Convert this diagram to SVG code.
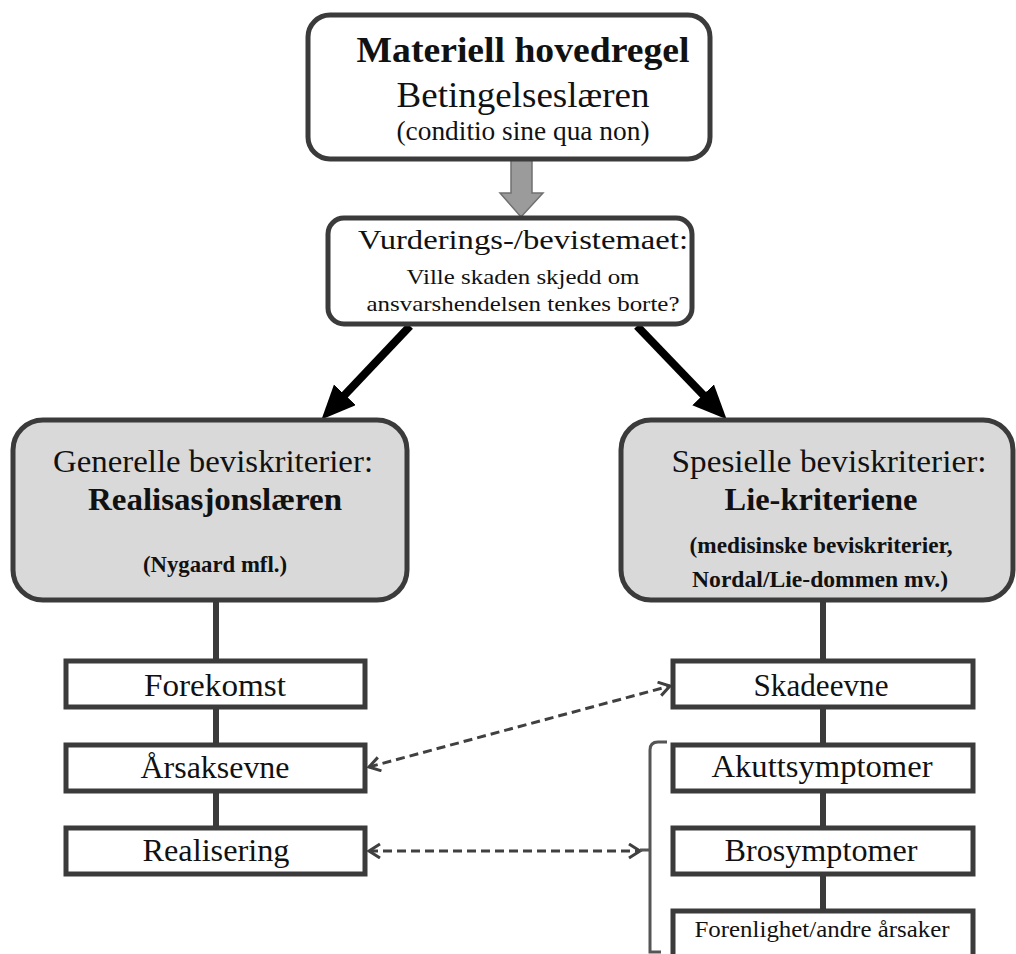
<svg xmlns="http://www.w3.org/2000/svg" width="1016" height="954" viewBox="0 0 1016 954">
<style>
text{font-family:"Liberation Serif","Times New Roman",Tinos,serif;fill:#111;text-anchor:middle}
.b{font-weight:bold}
.box{fill:#fff;stroke:#3b3b3b;stroke-width:5}
.gbox{fill:#d9d9d9;stroke:#3b3b3b;stroke-width:5}
.ln{stroke:#3b3b3b;stroke-width:6;fill:none}
.dash{stroke:#404040;stroke-width:3;fill:none;stroke-dasharray:9 5}
.thick{stroke:#000;stroke-width:8;fill:none}
.br{stroke:#555;stroke-width:3;fill:none}
.c{font-size:31px}
</style>
<defs>
<marker id="blk" markerUnits="userSpaceOnUse" markerWidth="36" markerHeight="32" refX="10" refY="15" orient="auto">
<path d="M0,0 L34,15 L0,30 z" fill="#000"/>
</marker>
<marker id="chev" markerUnits="userSpaceOnUse" markerWidth="18" markerHeight="18" refX="13" refY="8" orient="auto-start-reverse">
<path d="M2,1 L13,8 L2,15" fill="none" stroke="#404040" stroke-width="3"/>
</marker>
</defs>
<g id="connectors">
<polygon points="511,160 532,160 532,193 543,193 521,217 500,193 511,193" fill="#9b9b9b" stroke="#707070" stroke-width="1.5"/>
<line class="thick" x1="410" y1="326" x2="338" y2="402" marker-end="url(#blk)"/>
<line class="thick" x1="637" y1="326" x2="710" y2="402" marker-end="url(#blk)"/>
<line class="ln" x1="216" y1="600" x2="216" y2="661"/>
<line class="ln" x1="216" y1="707" x2="216" y2="745"/>
<line class="ln" x1="216" y1="791" x2="216" y2="828"/>
<line class="ln" x1="823" y1="600" x2="823" y2="661"/>
<line class="ln" x1="823" y1="707" x2="823" y2="745"/>
<line class="ln" x1="823" y1="791" x2="823" y2="828"/>
<line class="ln" x1="823" y1="874" x2="823" y2="911"/>
<line class="dash" x1="369" y1="767" x2="670" y2="686" marker-start="url(#chev)" marker-end="url(#chev)"/>
<line class="dash" x1="369" y1="851" x2="640" y2="851" marker-start="url(#chev)" marker-end="url(#chev)"/>
<path class="br" d="M667,742 L658,742 Q650,742 650,750 L650,952 L661,952 M650,850 L640,850"/>
</g>
<g id="n-hovedregel">
<rect class="box" x="308" y="15" width="402" height="144" rx="22" stroke-width="6"/>
<text class="b" x="523" y="62" font-size="35" textLength="333" lengthAdjust="spacingAndGlyphs">Materiell hovedregel</text>
<text x="523" y="107" font-size="36" textLength="253" lengthAdjust="spacingAndGlyphs">Betingelseslæren</text>
<text x="523" y="140" font-size="27" textLength="253" lengthAdjust="spacingAndGlyphs">(conditio sine qua non)</text>
</g>
<g id="n-bevistema">
<rect class="box" x="328" y="218" width="364" height="106" rx="16" stroke-width="4"/>
<text x="523" y="249" font-size="28" textLength="330" lengthAdjust="spacingAndGlyphs">Vurderings-/bevistemaet:</text>
<text x="523" y="284" font-size="21" textLength="233" lengthAdjust="spacingAndGlyphs">Ville  skaden skjedd om</text>
<text x="523" y="311" font-size="21" textLength="313" lengthAdjust="spacingAndGlyphs">ansvarshendelsen  tenkes borte?</text>
</g>
<g id="n-generelle">
<rect class="gbox" x="13" y="420" width="394" height="180" rx="30"/>
<text x="213" y="472" font-size="32" textLength="320" lengthAdjust="spacingAndGlyphs">Generelle beviskriterier:</text>
<text class="b" x="215" y="510" font-size="32" textLength="254" lengthAdjust="spacingAndGlyphs">Realisasjonslæren</text>
<text class="b" x="215" y="572" font-size="23" textLength="144" lengthAdjust="spacingAndGlyphs">(Nygaard mfl.)</text>
</g>
<g id="n-spesielle">
<rect class="gbox" x="621" y="420" width="392" height="180" rx="30"/>
<text x="829" y="472" font-size="32" textLength="315" lengthAdjust="spacingAndGlyphs">Spesielle beviskriterier:</text>
<text class="b" x="821" y="510" font-size="32" textLength="193" lengthAdjust="spacingAndGlyphs">Lie-kriteriene</text>
<text class="b" x="821" y="553" font-size="24" textLength="263" lengthAdjust="spacingAndGlyphs">(medisinske beviskriterier,</text>
<text class="b" x="820" y="587" font-size="24" textLength="256" lengthAdjust="spacingAndGlyphs">Nordal/Lie-dommen mv.)</text>
</g>
<g id="n-forekomst">
<rect class="box" x="66" y="661" width="299" height="46"/>
<text class="c" x="215" y="696" textLength="142" lengthAdjust="spacingAndGlyphs">Forekomst</text>
</g>
<g id="n-arsaksevne">
<rect class="box" x="66" y="745" width="299" height="46"/>
<text class="c" x="215" y="778" textLength="149" lengthAdjust="spacingAndGlyphs">Årsaksevne</text>
</g>
<g id="n-realisering">
<rect class="box" x="66" y="828" width="299" height="46"/>
<text class="c" x="216" y="861" textLength="147" lengthAdjust="spacingAndGlyphs">Realisering</text>
</g>
<g id="n-skadeevne">
<rect class="box" x="673" y="661" width="300" height="46"/>
<text class="c" x="821" y="696" textLength="135" lengthAdjust="spacingAndGlyphs">Skadeevne</text>
</g>
<g id="n-akutt">
<rect class="box" x="673" y="745" width="300" height="46"/>
<text class="c" x="822" y="777" textLength="221" lengthAdjust="spacingAndGlyphs">Akuttsymptomer</text>
</g>
<g id="n-bro">
<rect class="box" x="673" y="828" width="300" height="46"/>
<text class="c" x="821" y="861" textLength="193" lengthAdjust="spacingAndGlyphs">Brosymptomer</text>
</g>
<g id="n-forenlighet">
<rect class="box" x="673" y="911" width="300" height="60"/>
<text x="822" y="937" font-size="24" textLength="255" lengthAdjust="spacingAndGlyphs">Forenlighet/andre årsaker</text>
</g>
</svg>
